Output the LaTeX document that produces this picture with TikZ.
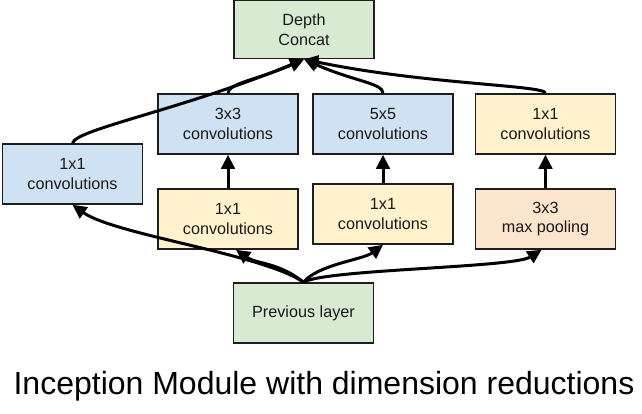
\documentclass[tikz,border=0pt]{standalone}
\usepackage{fontspec}
\setmainfont{Liberation Sans}
\usetikzlibrary{arrows.meta}
\definecolor{cblue}{HTML}{CFE2F3}
\definecolor{cgreen}{HTML}{D9EAD3}
\definecolor{cyellow}{HTML}{FFF2CC}
\definecolor{corange}{HTML}{FCE5CD}
\definecolor{cborder}{HTML}{1E1E1E}
\definecolor{ctext}{HTML}{1A1A1A}
\begin{document}
\begin{tikzpicture}[x=1pt,y=1pt,
  box/.style={draw=cborder, line width=1.6pt, minimum width=140pt, minimum height=60pt,
    inner sep=0pt, align=center, text=ctext, font=\fontsize{16.2}{19.5}\selectfont},
  conn/.style={line width=3pt, -{Triangle[length=14pt,width=13.5pt]}}]
\useasboundingbox (0,0) rectangle (642,-413);
\node[box, fill=cgreen, minimum height=58pt] (concat) at (304,-29.5) {Depth\\Concat};
\node[box, fill=cblue] (left1) at (72.5,-174) {1x1\\convolutions};
\node[box, fill=cblue] (r3) at (228,-124) {3x3\\convolutions};
\node[box, fill=cblue] (r5) at (383,-124) {5x5\\convolutions};
\node[box, fill=cyellow] (rc) at (545.5,-124) {1x1\\convolutions};
\node[box, fill=cyellow] (yl) at (228,-219) {1x1\\convolutions};
\node[box, fill=cyellow] (ym) at (383,-214) {1x1\\convolutions};
\node[box, fill=corange] (pool) at (545.5,-219) {3x3\\max pooling};
\node[box, fill=cgreen] (prev) at (303.5,-313) {Previous layer};
\node[anchor=base, font=\fontsize{32}{38}\selectfont, text=black] (title) at (324,-394) {Inception Module with dimension reductions};
% bottom connectors
\draw[conn] (prev.north) .. controls +(-40,28) and +(42,-30) .. (left1.south);
\draw[conn] (prev.north) .. controls +(-25,20) and +(20,-14) .. ([xshift=8pt]yl.south);
\draw[conn] (prev.north) .. controls +(15,18) and +(-20,-15) .. (ym.south);
\draw[conn] (prev.north) .. controls +(22,13) and +(-28,-18) .. ([xshift=-4pt]pool.south);
% vertical connectors
\draw[conn] (yl.north) -- (r3.south);
\draw[conn] (ym.north) -- (r5.south);
\draw[conn] (pool.north) -- (rc.south);
% top connectors
\draw[conn] (left1.north) .. controls +(3,14) and +(-120,-50) .. (concat.south);
\draw[conn] (r3.north) .. controls +(0,10) and +(-45,-20) .. (concat.south);
\draw[conn] (r5.north) .. controls +(0,10) and +(50,-22) .. (concat.south);
\draw[conn] (rc.north) .. controls +(0,8) and +(120,-25) .. (concat.south);
\end{tikzpicture}
\end{document}
